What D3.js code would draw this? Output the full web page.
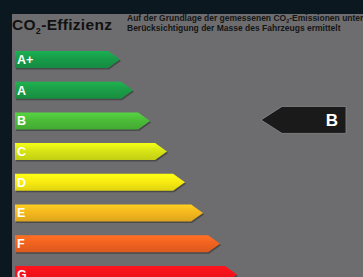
<!DOCTYPE html>
<html>
<head>
<meta charset="utf-8">
<script src="https://cdn.jsdelivr.net/npm/d3@7"></script>
<style>
html,body{margin:0;padding:0;background:#0c1820;overflow:hidden;}
svg{display:block;font-family:"Liberation Sans",Arial,sans-serif;}
</style>
</head>
<body>
<svg width="363" height="277"></svg>
<script>
// effizienzklassen
var classes = ["A+", "A", "B", "C", "D", "E", "F", "G"];
var barLength = [105, 118, 135, 152, 170, 188, 205, 222];
var barColors = ["#179c49", "#1b9e47", "#4cbc39", "#d8e515", "#f9ec12", "#f5b81e", "#f36320", "#f4121a"];
var currentClass = "B";

var svg = d3.select("svg");

// grauer hintergrund
svg.append("rect").attr("x", 12).attr("y", 14).attr("width", 351).attr("height", 263).attr("fill", "#6d6d6f");

// titel
var title = svg.append("text").attr("x", 12).attr("y", 29.5)
    .attr("font-size", 15.5).attr("font-weight", "bold").attr("fill", "#111")
    .attr("letter-spacing", 0.3);
title.append("tspan").text("CO");
title.append("tspan").attr("font-size", 9).attr("dy", 4).text("2");
title.append("tspan").attr("dy", -4).text("-Effizienz");

var sub = svg.append("g").attr("font-size", 8.5).attr("font-weight", "bold").attr("fill", "#151515");
var l1 = sub.append("text").attr("x", 127).attr("y", 20.5);
l1.append("tspan").text("Auf der Grundlage der gemessenen CO");
l1.append("tspan").attr("font-size", 5.5).attr("dy", 2).text("2");
l1.append("tspan").attr("dy", -2).text("-Emissionen unter");
sub.append("text").attr("x", 127).attr("y", 30.5).text("Berücksichtigung der Masse des Fahrzeugs ermittelt");

var y = d3.scaleBand().domain(classes).range([51, 51 + 7 * 30.7 + 17]).paddingInner(0.446).paddingOuter(0);
var x = d3.scaleLinear().domain([0, 222]).range([15, 237]);

var defs = svg.append("defs");
classes.forEach(function(c, i){
    var g = defs.append("linearGradient").attr("id", "grad" + i)
        .attr("x1", 0).attr("y1", 0).attr("x2", 0).attr("y2", 1);
    var col = d3.color(barColors[i]);
    g.append("stop").attr("offset", "0%").attr("stop-color", col.brighter(0.35));
    g.append("stop").attr("offset", "45%").attr("stop-color", col);
    g.append("stop").attr("offset", "100%").attr("stop-color", col.darker(0.3));
});

function arrowPath(d, i){
    var h = y.bandwidth();
    var x0 = x(0), x1 = x(barLength[i]), tip = h * 0.7;
    var y0 = y(d);
    return "M" + x0 + "," + y0 + "L" + (x1 - tip) + "," + y0 + "L" + x1 + "," + (y0 + h / 2)
        + "L" + (x1 - tip) + "," + (y0 + h) + "L" + x0 + "," + (y0 + h) + "Z";
}

var bars = svg.append("g").selectAll("g").data(classes).enter().append("g");

// schatten
bars.append("path")
    .attr("d", arrowPath)
    .attr("transform", "translate(1,1.5)")
    .attr("fill", "#4a4a4c");

bars.append("path")
    .attr("d", arrowPath)
    .attr("fill", (d, i) => "url(#grad" + i + ")");

bars.append("text")
    .attr("x", x(0) + 2)
    .attr("y", d => y(d) + y.bandwidth() / 2 + 4.5)
    .attr("font-size", 12.5).attr("font-weight", "bold").attr("fill", "#fff")
    .text(d => d);

// markierung aktuelle klasse
var cy = y(currentClass) + y.bandwidth() / 2 - 1;
var ih = 27, right = 346, left = 261, itip = 21;
svg.append("path")
    .attr("d", "M" + left + "," + cy + "L" + (left + itip) + "," + (cy - ih / 2) + "L" + right + "," + (cy - ih / 2)
        + "L" + right + "," + (cy + ih / 2) + "L" + (left + itip) + "," + (cy + ih / 2) + "Z")
    .attr("fill", "#1a1a1a").attr("stroke", "#8a8a8a").attr("stroke-width", 0.8);
svg.append("text")
    .attr("x", 338).attr("y", cy + 6)
    .attr("text-anchor", "end")
    .attr("font-size", 17).attr("font-weight", "bold").attr("fill", "#fff")
    .text(currentClass);
</script>
</body>
</html>
